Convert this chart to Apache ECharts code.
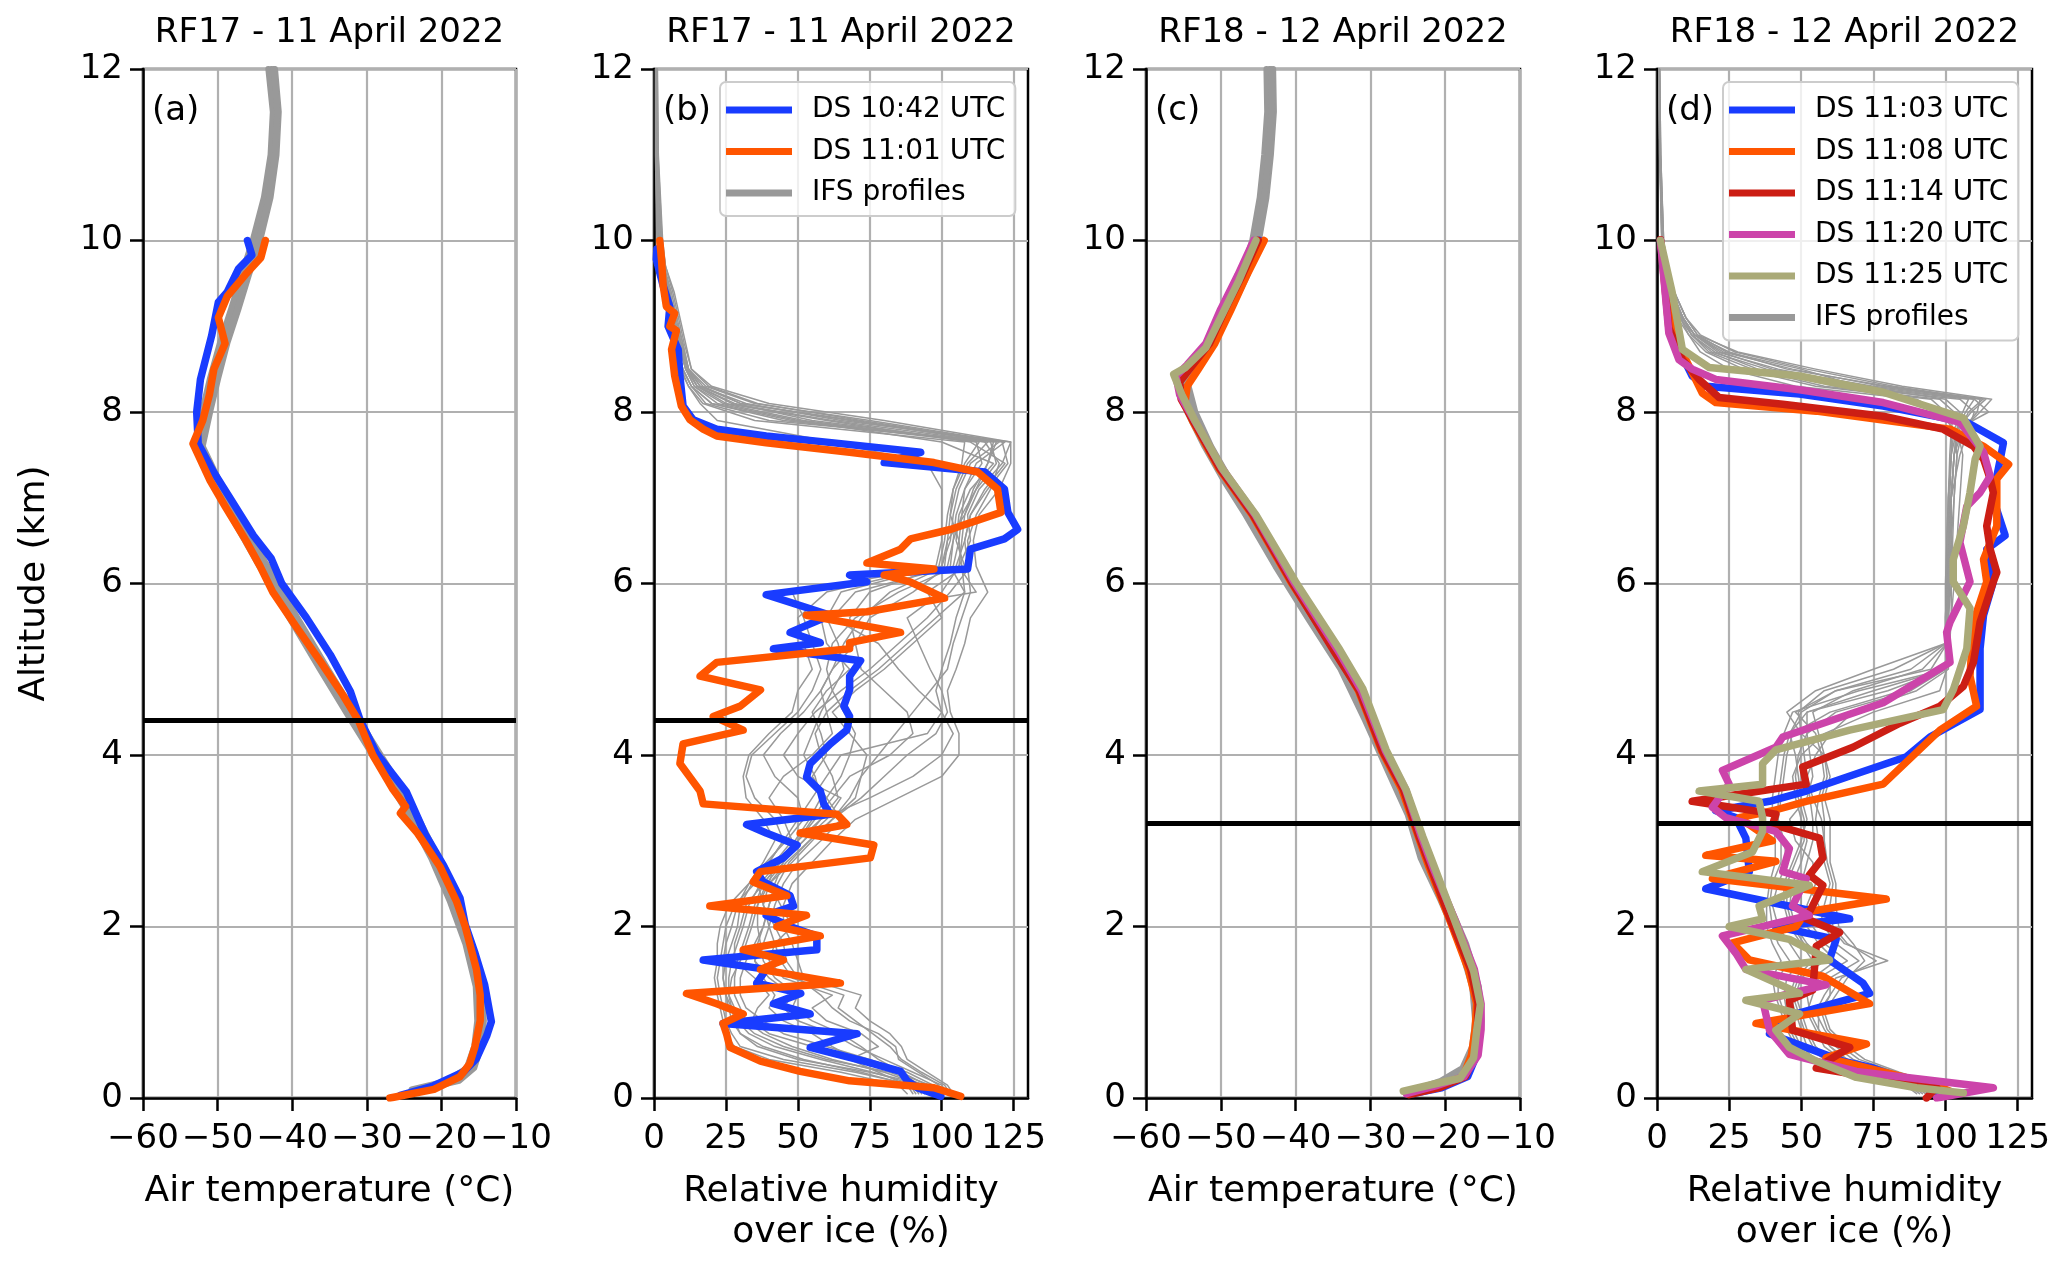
<!DOCTYPE html>
<html><head><meta charset="utf-8">
<script src="https://cdn.jsdelivr.net/npm/echarts@6/dist/echarts.min.js"></script>
<style>html,body{margin:0;padding:0;background:#fff}#chart{width:2067px;height:1268px}</style>
</head><body><div id="chart"></div><script>
// ---------------- data ----------------
const panelTitles = ['RF17 - 11 April 2022','RF17 - 11 April 2022','RF18 - 12 April 2022','RF18 - 12 April 2022'];
const panelLabels = ['(a)','(b)','(c)','(d)'];
const xAxisNames = ['Air temperature (°C)','Relative humidity\nover ice (%)','Air temperature (°C)','Relative humidity\nover ice (%)'];
const yAxisName = 'Altitude (km)';
const tempTicks = [-60,-50,-40,-30,-20,-10];
const rhTicks = [0,25,50,75,100,125];
const altTicks = [0,2,4,6,8,10,12];
const referenceAltitude = [4.4,4.4,3.2,3.2];
const rf17Sondes = ['DS 10:42 UTC','DS 11:01 UTC'];
const rf18Sondes = ['DS 11:03 UTC','DS 11:08 UTC','DS 11:14 UTC','DS 11:20 UTC','DS 11:25 UTC'];
const ifsName = 'IFS profiles';

// IFS model levels (km)
const ifsLevelsT = [0.1,0.2,0.35,0.6,0.9,1.3,1.8,2.3,2.8,3.3,3.8,4.4,5.0,5.6,6.2,6.8,7.2,7.6,8.0,8.4,8.8,9.2,9.6,10.0,10.5,11.0,11.5,12.0];
const ifsLevelsB = [0.05,0.15,0.3,0.45,0.6,0.75,0.9,1.05,1.2,1.4,1.6,1.8,2.0,2.25,2.5,2.75,3.0,3.25,3.5,3.75,4.0,4.25,4.5,4.75,5.0,5.3,5.6,5.9,6.2,6.5,6.8,7.1,7.4,7.65,7.9,8.1,8.3,8.5,8.8,9.1,9.4,9.7,10.0,11.0,12.0];
const ifsLevelsD = [0.05,0.15,0.3,0.45,0.6,0.8,1.0,1.2,1.4,1.6,1.8,2.0,2.25,2.5,2.75,3.0,3.25,3.5,3.75,4.0,4.25,4.5,4.75,5.0,5.3,5.6,6.0,6.5,7.0,7.5,7.8,8.0,8.15,8.3,8.5,8.7,8.9,9.1,9.4,9.7,10.0,11.0,12.0];

// (a) IFS temperature profiles, RF17
const ifsA1 = [-23.5,-18.5,-16.2,-15.2,-14.8,-15.0,-16.3,-18.4,-20.9,-23.9,-27.3,-31.6,-35.8,-39.9,-43.9,-47.8,-50.3,-52.4,-51.6,-50.5,-49.2,-47.7,-46.3,-44.8,-43.4,-42.5,-42.2,-42.8];
const ifsA2 = [-22.5,-17.6,-15.6,-14.7,-14.3,-14.6,-15.9,-17.9,-20.4,-23.3,-26.7,-31.0,-35.2,-39.3,-43.3,-47.3,-49.8,-52.0,-51.0,-49.9,-48.7,-47.2,-45.8,-44.3,-42.9,-42.1,-41.8,-42.3];
const ifsA3 = [-24.0,-19.2,-16.6,-15.6,-15.2,-15.4,-16.8,-18.9,-21.4,-24.4,-27.8,-32.1,-36.3,-40.4,-44.4,-48.3,-50.8,-52.8,-52.1,-51.0,-49.7,-48.2,-46.8,-45.3,-43.8,-42.9,-42.6,-43.2];
const ifsA4 = [-23.0,-18.0,-15.9,-14.9,-14.5,-14.8,-16.1,-18.2,-20.7,-23.6,-27.0,-31.3,-35.5,-39.6,-43.6,-47.6,-50.0,-52.2,-51.3,-50.2,-48.9,-47.4,-46.0,-44.5,-43.1,-42.3,-42.0,-42.5];

// (c) IFS temperature profiles, RF18
const ifsC1 = [-23.5,-20.0,-17.3,-16.0,-15.6,-16.0,-17.7,-20.2,-22.9,-24.6,-27.2,-30.3,-33.6,-38.0,-42.3,-46.3,-49.2,-51.8,-54.0,-55.2,-51.5,-49.1,-46.9,-45.4,-44.4,-43.8,-43.4,-43.5];
const ifsC2 = [-22.8,-19.3,-16.8,-15.5,-15.1,-15.5,-17.2,-19.7,-22.4,-24.1,-26.7,-29.8,-33.1,-37.5,-41.8,-45.8,-48.7,-51.3,-53.4,-54.6,-51.0,-48.6,-46.4,-44.9,-43.9,-43.3,-42.9,-43.0];
const ifsC3 = [-24.0,-20.6,-17.7,-16.4,-16.0,-16.4,-18.1,-20.6,-23.3,-25.0,-27.6,-30.7,-34.0,-38.4,-42.7,-46.7,-49.6,-52.2,-54.5,-55.6,-51.9,-49.5,-47.3,-45.8,-44.8,-44.2,-43.8,-43.9];
const ifsC4 = [-23.2,-19.7,-17.0,-15.8,-15.4,-15.8,-17.5,-20.0,-22.7,-24.4,-27.0,-30.1,-33.4,-37.8,-42.1,-46.1,-49.0,-51.6,-53.8,-55.0,-51.3,-48.9,-46.7,-45.2,-44.2,-43.6,-43.2,-43.3];

// (b) IFS RH-ice profiles, RF17
const ifsB1 = [92,90,70,45,30,27,25,24,23,22,23,24,25,28,35,40,45,42,35,32,34,42,50,55,58,55,52,48,100,103,104,106,110,120,40,18,13,10,8,6,4.5,3,2,1,0.8];
const ifsB2 = [100,97,88,75,60,45,38,32,30,30,32,35,38,40,42,45,50,55,60,65,68,70,66,62,60,62,70,85,105,108,110,115,122,110,60,25,15,12,9.5,7,5,3.5,2.5,1.2,1];
const ifsB3 = [104,102,95,88,86,82,75,70,72,52,50,48,45,45,48,55,62,70,85,100,106,106,103,102,105,108,110,116,112,111,113,120,124,124,80,40,20,13,11,9,7,4,3,1.5,1.2];
const ifsB4 = [88,85,65,40,28,25,24,23,22,21,22,22,23,26,33,38,42,38,32,31,33,40,48,50,55,52,50,60,98,100,100,100,95,62,22,16,12,9,7,5,4,2,1,0.5,0.5];
const ifsB5 = [96,94,82,60,45,35,30,28,26,27,30,32,34,36,40,48,55,62,70,72,74,68,62,70,80,90,100,95,108,105,106,110,118,100,50,22,14,11,8.5,6.5,5,3,2,1,0.8];
const ifsB6 = [90,88,78,68,78,72,60,55,62,45,40,42,48,44,40,42,48,45,40,45,55,62,60,58,62,70,68,75,100,102,108,112,116,118,70,30,17,12,10,8,6,3.5,2.5,1.2,1];
const ifsB7 = [100,99,92,85,84,78,68,62,58,50,46,45,42,38,36,40,45,50,55,60,65,95,100,98,100,103,105,108,103,104,107,108,112,122,75,35,18,12,9,7,5.5,3,2,1,1];
const ifsB8 = [94,92,86,72,55,40,34,36,40,35,28,28,30,32,38,44,52,60,65,50,45,50,56,65,75,85,95,103,110,109,112,117,120,115,55,28,15,11,9,6,4.5,2.5,1.5,0.8,0.8];
const ifsB9 = [98,95,75,50,36,30,28,27,25,24,25,27,29,30,34,42,50,58,75,90,100,104,100,92,85,78,62,70,104,106,103,104,108,113,45,20,13,10,8,6,4,2.5,1.5,0.8,0.7];
const ifsB10 = [102,100,90,80,70,62,50,45,48,40,35,38,40,42,45,50,58,65,60,55,60,58,55,60,68,60,58,112,106,110,109,113,121,124,65,32,16,12,10,7.5,5.5,3.5,2.5,1.2,1];
const ifsB11 = [95,93,80,62,48,38,32,30,28,28,29,31,33,35,38,44,50,56,62,68,82,90,88,80,72,70,75,90,102,104,105,108,114,112,52,24,14,11,8.5,6.5,4.8,3,2,1,0.8];
const ifsB12 = [99,96,84,70,62,55,45,40,42,38,35,36,38,40,43,47,54,62,72,80,88,98,102,100,96,92,88,100,106,107,108,111,116,119,68,30,16,12,9.5,7,5,3,2,1,0.9];
const ifsB13 = [91,89,72,52,38,30,27,26,25,24,24,25,27,29,33,39,46,52,50,42,38,44,52,58,62,66,72,82,101,102,103,105,109,116,48,20,13,10,8,6,4.2,2.5,1.5,0.8,0.7];
const ifsB14 = [103,101,93,86,82,76,70,64,66,48,44,42,40,38,40,46,54,62,68,72,78,84,90,96,102,104,107,110,109,108,110,116,123,121,72,36,19,13,10.5,8.5,6.5,4,2.8,1.4,1.1];
const ifsB15 = [97,95,86,78,72,65,55,48,50,42,38,37,36,36,39,45,52,58,64,62,58,56,60,68,78,88,98,108,107,106,107,112,119,117,62,27,15,11.5,9,7,5,3,2,1,0.9];
const ifsB16 = [93,91,76,58,42,33,29,27,26,26,27,29,31,33,37,43,49,54,58,56,52,55,58,62,66,64,60,65,99,101,102,104,107,108,35,17,12,9.5,7.5,5.5,4,2.2,1.2,0.6,0.6];

// (d) IFS RH-ice profiles, RF18
const ifsD1 = [92,88,70,55,50,47,45,44,45,50,46,42,40,42,45,44,42,43,44,45,47,60,85,100,101,101,101,101,101.5,102,104,115,110,80,45,25,13,9,5,3,2,1.2,0.8];
const ifsD2 = [98,95,80,68,62,58,55,58,62,80,65,60,58,60,58,56,55,56,58,57,55,48,62,95,100.5,100.5,100.5,101,102,103,106,112,116,85,55,28,14,10,6,3.5,2.2,1.3,0.9];
const ifsD3 = [95,90,75,60,55,52,50,48,50,58,52,48,46,47,50,52,50,48,47,50,58,75,98,100.5,101,102,102,102,103,104,103,98,90,48,25,15,11,8,4.5,2.5,1.8,1.0,0.7];
const ifsD4 = [100,98,84,72,66,60,58,62,66,72,68,63,62,62,60,60,60,58,60,58,50,45,55,75,100,101,101.5,101.5,102,105,108,110,105,62,35,20,12,9,5.5,3,2,1.1,0.8];
const ifsD5 = [90,86,66,52,48,45,43,41,40,43,40,38,38,39,41,41,40,40,41,42,44,47,70,100,100,100,100,100.5,101,102,102,100,95,55,30,17,11,7,4,2.5,1.6,0.9,0.6];
const ifsD6 = [96,92,78,64,58,55,52,54,56,66,58,54,52,55,54,48,46,52,54,53,52,52,80,100,100.5,101,101,102,102,103,105,108,113,75,40,22,13,8.5,5,3,2,1.1,0.8];
const ifsD7 = [101,97,82,66,60,56,56,60,60,70,62,58,56,52,56,58,57,54,52,55,60,68,90,101,101.5,102,103,104,105,106,104,105,100,70,50,24,14,10,6,3.5,2.3,1.2,0.9];
const ifsD8 = [93,89,72,58,52,50,48,46,48,54,50,46,44,44,47,50,52,50,49,48,46,50,62,88,100,100,100.5,101,101,102,103,106,108,68,38,19,12,8,4.5,2.5,1.7,1.0,0.7];
const ifsD9 = [97,94,79,65,60,56,53,52,54,62,56,52,50,50,52,54,54,53,52,51,50,49,58,82,100,100.5,101,101.5,102,103,104,109,114,78,47,23,13,9,5,3,2,1.1,0.8];
const ifsD10 = [91,87,68,54,49,46,44,42,42,46,42,40,39,40,43,43,42,42,43,44,46,52,75,100,100,100,100.5,100.5,101,101.5,102,103,98,58,33,18,12,8,4.5,2.6,1.7,1.0,0.7];
const ifsD11 = [99,96,83,70,64,59,57,60,64,76,66,61,60,61,59,58,58,57,59,58,56,54,68,92,100.5,101,102,102.5,103,104,106,111,112,82,52,27,15,10,6,3.5,2.3,1.3,0.9];
const ifsD12 = [94,90,74,60,54,51,49,47,49,56,51,47,45,45,48,51,51,49,48,49,52,62,88,100,100.5,101,101,101.5,102,103,104,107,110,72,42,21,13,9,5,3,2,1.1,0.8];

// Dropsonde profiles: [value, altitude km]
// (a) temperature RF17
const dsA1042 = [[-25.5,0.03],[-21.1,0.14],[-17.1,0.3],[-15.3,0.46],[-13.9,0.73],[-13.3,0.89],[-14.2,1.32],[-15.5,1.69],[-16.8,2.02],[-17.5,2.33],[-19.7,2.71],[-22.2,3.08],[-24.7,3.57],[-28.7,4.02],[-30.9,4.41],[-32.2,4.74],[-34.9,5.17],[-38.1,5.6],[-41.4,6.0],[-42.8,6.29],[-45.2,6.56],[-48.3,6.99],[-50.6,7.31],[-52.6,7.63],[-52.8,8.0],[-52.3,8.38],[-50.8,8.89],[-49.9,9.28],[-48.7,9.4],[-47.2,9.67],[-45.4,9.83],[-46.0,10.0]];
const dsA1101 = [[-26.9,0.0],[-21.0,0.1],[-17.5,0.25],[-16.2,0.4],[-15.5,0.6],[-14.8,0.9],[-14.8,1.2],[-15.3,1.5],[-16.8,2.0],[-18.0,2.3],[-20.2,2.7],[-23.3,3.1],[-25.5,3.32],[-24.8,3.4],[-26.5,3.6],[-29.2,4.0],[-31.1,4.4],[-33.2,4.7],[-36.3,5.1],[-39.5,5.5],[-42.6,5.9],[-44.3,6.2],[-46.2,6.5],[-49.0,6.9],[-51.0,7.2],[-52.6,7.5],[-53.3,7.63],[-52.0,7.9],[-51.1,8.2],[-50.5,8.5],[-49.0,8.8],[-49.9,9.1],[-48.7,9.35],[-46.3,9.6],[-44.2,9.8],[-43.6,10.0]];

// (b) RH-ice RF17
const dsB1042 = [[99.7,0.02],[91.5,0.12],[88,0.2],[85.7,0.31],[73,0.43],[54.3,0.59],[70.6,0.75],[24,0.87],[54.3,0.98],[41.5,1.1],[51,1.22],[35.7,1.34],[39,1.5],[17.1,1.61],[56.6,1.73],[56.6,1.89],[47.3,2.0],[39,2.13],[48.5,2.24],[47.3,2.36],[38,2.52],[35.7,2.64],[45,2.8],[49.7,2.95],[39,3.09],[32.2,3.19],[61.3,3.31],[59,3.43],[57.8,3.58],[53,3.74],[54.3,3.9],[61.3,4.13],[67,4.29],[68,4.45],[66,4.57],[68,4.76],[68,4.92],[71.8,5.1],[41.5,5.24],[57.8,5.31],[47.3,5.43],[61.3,5.63],[39,5.87],[74,6.02],[68,6.1],[109,6.17],[110,6.4],[121.8,6.52],[126.4,6.63],[123,6.83],[121.8,7.1],[115,7.3],[80,7.41],[92.7,7.53],[62.5,7.64],[39,7.72],[21.8,7.8],[13.6,7.91],[10.1,8.07],[9,8.42],[8.4,8.73],[4.9,9.0],[5.5,9.23],[3.2,9.47],[0.8,9.78],[1,9.9]];
const dsB1101 = [[106.6,0.02],[97.3,0.12],[68,0.2],[50.8,0.31],[37,0.43],[26.4,0.59],[25.2,0.75],[24,0.87],[31,0.98],[21.8,1.1],[11.3,1.22],[64.8,1.34],[37,1.5],[45,1.61],[31,1.73],[57.8,1.89],[42.7,2.0],[53,2.13],[19.4,2.24],[46.2,2.36],[34.5,2.52],[37,2.64],[75.2,2.8],[76.4,2.95],[50.8,3.09],[67,3.19],[63.6,3.31],[17.1,3.43],[16,3.58],[12.5,3.74],[9,3.9],[10.1,4.13],[31,4.29],[20.6,4.45],[30,4.57],[37,4.76],[16,4.92],[21.8,5.08],[68,5.24],[68,5.31],[85.7,5.43],[53,5.63],[74,5.67],[101,5.83],[89,6.02],[80,6.1],[97.3,6.17],[74,6.24],[85.7,6.4],[89.2,6.52],[103,6.63],[120.6,6.83],[119.4,7.1],[112.5,7.3],[97.3,7.41],[68,7.53],[39,7.64],[21.8,7.72],[17.1,7.8],[12.5,7.91],[9.5,8.07],[7.2,8.42],[6.1,8.73],[7.8,8.95],[5.5,9.0],[7.2,9.15],[4.3,9.23],[3.2,9.47],[2.6,9.78],[2,10.0]];

// (c) temperature RF18
const dsC1103 = [[-24.5,0.05],[-20.5,0.12],[-17.0,0.25],[-15.8,0.5],[-15.5,0.8],[-15.4,1.1],[-16.4,1.5],[-19.2,2.1],[-21.9,2.7],[-23.4,3.05],[-25.5,3.6],[-28.3,4.05],[-31.4,4.75],[-34.5,5.2],[-40.3,6.0],[-45.6,6.8],[-50.1,7.35],[-53.6,7.9],[-55.0,8.15],[-55.6,8.35],[-54.0,8.55],[-51.5,8.8],[-49.3,9.2],[-47.0,9.6],[-44.8,10.0]];
const dsC1108 = [[-25.0,0.05],[-21.0,0.12],[-17.6,0.25],[-16.5,0.5],[-16.0,0.8],[-15.8,1.1],[-16.9,1.5],[-19.5,2.1],[-22.2,2.7],[-23.6,3.05],[-25.8,3.6],[-28.5,4.05],[-31.6,4.75],[-34.6,5.2],[-40.5,6.0],[-45.8,6.8],[-50.3,7.35],[-53.8,7.9],[-54.8,8.1],[-54.5,8.3],[-53.0,8.5],[-50.8,8.8],[-48.6,9.2],[-46.5,9.6],[-44.2,10.0]];
const dsC1114 = [[-24.8,0.04],[-20.8,0.12],[-17.3,0.25],[-16.0,0.5],[-15.7,0.8],[-15.6,1.1],[-16.6,1.5],[-19.4,2.1],[-22.0,2.7],[-23.5,3.05],[-25.6,3.6],[-28.4,4.05],[-31.5,4.75],[-34.8,5.2],[-40.4,6.0],[-45.7,6.8],[-50.2,7.35],[-53.7,7.9],[-55.3,8.15],[-55.5,8.35],[-54.2,8.5],[-51.5,8.8],[-49.4,9.2],[-47.1,9.6],[-45.0,10.0]];
const dsC1120 = [[-25.2,0.05],[-21.3,0.14],[-17.5,0.25],[-15.6,0.5],[-15.2,0.8],[-15.2,1.1],[-16.1,1.5],[-18.8,2.1],[-21.7,2.7],[-23.2,3.05],[-25.3,3.6],[-28.0,4.05],[-31.2,4.75],[-34.2,5.2],[-40.1,6.0],[-45.4,6.8],[-49.9,7.35],[-53.5,7.9],[-55.5,8.2],[-56.0,8.42],[-54.5,8.55],[-52.0,8.8],[-50.0,9.2],[-47.7,9.6],[-45.6,10.0]];
const dsC1125 = [[-25.6,0.08],[-21.6,0.16],[-18.0,0.23],[-16.2,0.47],[-15.8,0.78],[-15.3,1.09],[-16.2,1.48],[-18.9,2.11],[-21.6,2.73],[-23.0,3.05],[-25.2,3.59],[-27.9,4.06],[-31.0,4.77],[-34.1,5.23],[-40.0,6.02],[-45.3,6.8],[-49.8,7.34],[-53.4,7.89],[-55.2,8.2],[-56.3,8.44],[-54.7,8.52],[-52.0,8.75],[-49.8,9.14],[-47.6,9.53],[-45.3,10.0]];

// (d) RH-ice RF18
const dsD1103 = [[97,0.02],[93.4,0.12],[74.9,0.35],[64.4,0.43],[39,0.75],[48.2,0.98],[73.7,1.22],[71.4,1.34],[59.8,1.61],[62.1,1.85],[41.2,2.0],[66.8,2.09],[16.9,2.44],[32,2.64],[30.8,3.03],[27.3,3.27],[20.4,3.35],[39,3.46],[51.7,3.58],[65.6,3.74],[86.5,3.98],[94.6,4.21],[112,4.53],[112,5.24],[113.2,5.63],[116.6,6.02],[115.5,6.13],[114.3,6.4],[120.7,6.56],[116.6,6.98],[117.8,7.25],[119,7.45],[120.1,7.64],[107.4,7.88],[78.4,8.07],[49.4,8.21],[16.9,8.3],[12.2,8.42],[7.6,8.73],[4.1,9.16],[1.2,10.0]];
const dsD1108 = [[101.6,0.08],[95.8,0.16],[58.6,0.47],[72.6,0.63],[34.3,0.87],[73.7,1.1],[57.5,1.42],[32,1.61],[26.2,1.81],[48.2,2.0],[51.7,2.17],[79.5,2.32],[19.2,2.56],[41.2,2.76],[16.9,2.83],[40,3.0],[28.5,3.27],[40.1,3.35],[51.7,3.46],[78.4,3.66],[98.1,4.29],[110.8,4.57],[108.5,4.92],[109.7,5.55],[114.3,6.02],[113.2,6.28],[117.8,6.67],[117.8,7.22],[121.9,7.39],[113.2,7.6],[101.6,7.8],[55.2,8.01],[20.4,8.11],[15.7,8.22],[10,8.61],[5.3,8.98],[1.2,10.0]];
const dsD1114 = [[93.4,0.0],[97,0.12],[55.2,0.35],[66.8,0.59],[47,0.79],[45.9,1.14],[54,1.26],[55.2,1.77],[63.3,1.93],[51.7,2.09],[57.5,2.48],[52.8,2.6],[57.5,2.8],[56.3,3.03],[40.1,3.19],[41.2,3.31],[12.2,3.46],[51.7,3.66],[50.5,3.86],[67.9,4.09],[84.2,4.37],[98.1,4.57],[106.2,4.8],[109.7,5.08],[112,5.55],[116.6,6.02],[117.8,6.13],[115.5,6.4],[114.3,6.67],[116.6,7.06],[115.5,7.22],[113.2,7.45],[109.7,7.6],[99.2,7.8],[78.4,7.95],[43.6,8.09],[21.5,8.17],[14.6,8.38],[8.8,8.61],[4.1,8.98],[1.2,10.01]];
const dsD1120 = [[97,0.0],[116.6,0.12],[69.1,0.31],[45.9,0.51],[39,0.79],[36.6,1.14],[58.6,1.32],[30.8,1.5],[27.3,1.69],[22.7,1.89],[52.8,2.13],[47,2.24],[51.7,2.56],[43.6,2.64],[45.9,2.91],[41.2,3.11],[23.8,3.27],[19.2,3.39],[25,3.66],[22.7,3.82],[41.2,4.09],[43.6,4.21],[78.4,4.61],[101.6,5.08],[100.4,5.43],[101.6,5.55],[108.5,6.02],[105,6.48],[107.4,6.9],[112,7.06],[115.5,7.25],[113.2,7.53],[105,7.88],[78.4,8.11],[49.4,8.26],[20.4,8.38],[12.2,8.5],[7.6,8.61],[4.1,8.92],[1.2,10.0]];
const dsD1125 = [[106.2,0.06],[90,0.12],[69.1,0.24],[55.2,0.43],[45.9,0.59],[41.2,0.79],[49.4,0.98],[30.8,1.14],[49.4,1.22],[30.8,1.5],[59.8,1.61],[45.9,1.85],[25,2.0],[36.6,2.09],[35.4,2.24],[52.8,2.48],[15.7,2.64],[33.1,2.87],[36.6,3.11],[36.6,3.27],[35.4,3.46],[14.6,3.58],[36.6,3.66],[36.6,3.9],[41.2,4.06],[66.8,4.29],[99.2,4.53],[102.7,4.76],[107.4,5.24],[108.5,5.71],[102.7,6.02],[102.7,6.28],[106.2,6.67],[108.5,7.06],[110.3,7.45],[112,7.6],[106.2,7.93],[78.4,8.23],[49.4,8.42],[18,8.52],[8.8,8.73],[5.3,9.39],[1.2,10.0]];

// ---------------- styling / layout ----------------
const FONT = 'DejaVu Sans';
const COLORS = {
  'DS 10:42 UTC':'#193cff','DS 11:01 UTC':'#ff5500',
  'DS 11:03 UTC':'#193cff','DS 11:08 UTC':'#ff5500','DS 11:14 UTC':'#cc1e14',
  'DS 11:20 UTC':'#cc44aa','DS 11:25 UTC':'#aaaa78'
};
const IFS_COLOR = '#999999';
const GRID_LEFT = [143, 654, 1146, 1657];
const GRID_W = [373, 374, 374, 375];
const GRID_TOP = 69, GRID_H = 1029;

const toPairs = (levels, vals) => vals.map((v, i) => [v, levels[i]]);
const fmt = v => v < 0 ? '\u2212' + Math.abs(v) : String(v);

const panels = [
  {temp:true, ifs:[ifsA1,ifsA2,ifsA3,ifsA4].map(p=>toPairs(ifsLevelsT,p)), ifsW:6,
   ds:[[rf17Sondes[0],dsA1042],[rf17Sondes[1],dsA1101]]},
  {temp:false, ifs:[ifsB1,ifsB2,ifsB3,ifsB4,ifsB5,ifsB6,ifsB7,ifsB8,ifsB9,ifsB10,ifsB11,ifsB12,ifsB13,ifsB14,ifsB15,ifsB16].map(p=>toPairs(ifsLevelsB,p)), ifsW:1.5,
   ds:[[rf17Sondes[0],dsB1042],[rf17Sondes[1],dsB1101]]},
  {temp:true, ifs:[ifsC1,ifsC2,ifsC3,ifsC4].map(p=>toPairs(ifsLevelsT,p)), ifsW:6,
   ds:[[rf18Sondes[0],dsC1103],[rf18Sondes[1],dsC1108],[rf18Sondes[2],dsC1114],[rf18Sondes[3],dsC1120],[rf18Sondes[4],dsC1125]]},
  {temp:false, ifs:[ifsD1,ifsD2,ifsD3,ifsD4,ifsD5,ifsD6,ifsD7,ifsD8,ifsD9,ifsD10,ifsD11,ifsD12].map(p=>toPairs(ifsLevelsD,p)), ifsW:1.5,
   ds:[[rf18Sondes[0],dsD1103],[rf18Sondes[1],dsD1108],[rf18Sondes[2],dsD1114],[rf18Sondes[3],dsD1120],[rf18Sondes[4],dsD1125]]}
];

const grid = [], xAxis = [], yAxis = [], series = [], graphic = [];
const txt = {fontFamily: FONT, color: '#000'};

panels.forEach((p, i) => {
  grid.push({left: GRID_LEFT[i], top: GRID_TOP, width: GRID_W[i], height: GRID_H,
    show: true, borderColor: '#000', borderWidth: 2.5, backgroundColor: 'rgba(0,0,0,0)'});
  const ticks = p.temp ? tempTicks : rhTicks;
  xAxis.push({gridIndex: i, type: 'value',
    min: p.temp ? -60 : 0, max: p.temp ? -10 : 130, interval: p.temp ? 10 : 25,
    axisLine: {show: true, onZero: false, lineStyle: {color: '#000', width: 2.5}},
    axisTick: {show: true, length: 13, lineStyle: {color: '#000', width: 2.5}, customValues: ticks},
    axisLabel: {show: true, customValues: ticks, fontSize: 34, margin: 24, formatter: fmt, ...txt},
    splitLine: {show: true, lineStyle: {color: '#b0b0b0', width: 2.2}},
    name: xAxisNames[i], nameLocation: 'middle', nameGap: 73,
    nameTextStyle: {fontSize: 36, lineHeight: 41, ...txt}
  });
  yAxis.push({gridIndex: i, type: 'value', min: 0, max: 12, interval: 2,
    axisLine: {show: true, onZero: false, lineStyle: {color: '#000', width: 2.5}},
    axisTick: {show: true, length: 13, lineStyle: {color: '#000', width: 2.5}, customValues: altTicks},
    axisLabel: {show: true, customValues: altTicks, fontSize: 34, margin: 20, ...txt},
    splitLine: {show: true, lineStyle: {color: '#b0b0b0', width: 2.2}},
    name: i === 0 ? yAxisName : '', nameLocation: 'middle', nameGap: 90,
    nameTextStyle: {fontSize: 36, ...txt}
  });
  p.ifs.forEach(d => series.push({type: 'line', name: ifsName, data: d, xAxisIndex: i, yAxisIndex: i,
    symbol: 'none', showSymbol: false, silent: true, animation: false, z: 2,
    lineStyle: {color: IFS_COLOR, width: p.ifsW, join: 'round', cap: 'round'}, itemStyle: {color: IFS_COLOR}}));
  p.ds.forEach(([name, d]) => series.push({type: 'line', name, data: d, xAxisIndex: i, yAxisIndex: i,
    symbol: 'none', showSymbol: false, silent: true, animation: false, z: 3,
    lineStyle: {color: COLORS[name], width: 7.5, join: 'round', cap: 'round'}, itemStyle: {color: COLORS[name]}}));
  series.push({type: 'line', name: 'reference altitude', data: [], xAxisIndex: i, yAxisIndex: i,
    silent: true, animation: false, z: 5,
    markLine: {silent: true, animation: false, symbol: ['none', 'none'], label: {show: false},
      lineStyle: {color: '#000', width: 5, type: 'solid'}, emphasis: {disabled: true},
      data: [{yAxis: referenceAltitude[i]}]}});
  const cx = GRID_LEFT[i] + GRID_W[i] / 2;
  graphic.push({type: 'text', x: cx, y: 33, silent: true,
    style: {text: panelTitles[i], fontSize: 34, fontFamily: FONT, fill: '#000', align: 'center', verticalAlign: 'middle'}});
  graphic.push({type: 'text', x: GRID_LEFT[i] + 9, y: 111, silent: true, z: 10,
    style: {text: panelLabels[i], fontSize: 34, fontFamily: FONT, fill: '#000', align: 'left', verticalAlign: 'middle'}});
});

const legendBase = {orient: 'vertical', selectedMode: false, icon: 'rect', itemWidth: 66, itemHeight: 7, itemGap: 11.5,
  padding: [13, 10, 8, 6], backgroundColor: 'rgba(255,255,255,0.8)', borderColor: '#cccccc', borderWidth: 2, borderRadius: 6,
  itemStyle: {borderWidth: 0}, textStyle: {fontSize: 28, lineHeight: 30, fontFamily: FONT, color: '#000', padding: [0, 0, 0, 15]}};
const legendItem = name => ({name, itemStyle: {color: COLORS[name] || IFS_COLOR, borderWidth: 0}});

const option = {
  backgroundColor: '#fff', animation: false,
  grid, xAxis, yAxis, series, graphic,
  legend: [
    {...legendBase, left: 720, top: 82, data: [...rf17Sondes, ifsName].map(legendItem)},
    {...legendBase, left: 1723, top: 82, data: [...rf18Sondes, ifsName].map(legendItem)}
  ]
};
const chart = echarts.init(document.getElementById('chart'), null, {renderer: 'canvas'});
chart.setOption(option);
</script></body></html>
